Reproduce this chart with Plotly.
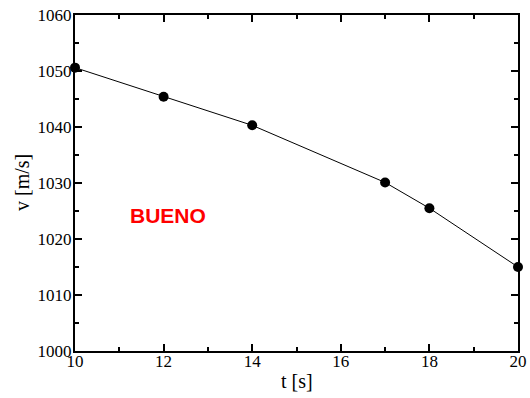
import plotly.graph_objects as go

# datos
t_s = [10, 12, 14, 17, 18, 20]
v_ms = [1050.6, 1045.4, 1040.3, 1030.1, 1025.5, 1015.0]

x_ticks = [10, 12, 14, 16, 18, 20]
y_ticks = [1000, 1010, 1020, 1030, 1040, 1050, 1060]

SERIF = "Liberation Serif"

fig = go.Figure()
fig.add_trace(go.Scatter(
    x=t_s, y=v_ms, mode="lines+markers",
    line=dict(color="black", width=1),
    marker=dict(color="black", size=10),
    cliponaxis=False,
))

fig.add_annotation(
    x=12.1, y=1024.2, text="<b>BUENO</b>", showarrow=False,
    font=dict(family="Liberation Sans", size=21, color="#ff0000"),
)

# titulos de ejes como anotaciones (posicion exacta)
title_font = dict(family=SERIF, size=20, color="black")
fig.add_annotation(x=0.5, y=0, xref="paper", yref="paper", text="t [s]",
                   showarrow=False, yanchor="middle", yshift=-30, font=title_font)
fig.add_annotation(x=0, y=0.5, xref="paper", yref="paper", text="v [m/s]",
                   showarrow=False, textangle=-90, xanchor="center",
                   xshift=-53, font=title_font)

axis_common = dict(
    showgrid=False, zeroline=False, showline=True, linecolor="black",
    linewidth=2, mirror="allticks", ticks="inside", ticklen=7,
    tickwidth=1.5, tickcolor="black", automargin=False,
    ticklabeloverflow="allow",
    tickfont=dict(family=SERIF, size=17, color="black"),
)

fig.update_xaxes(
    range=[10, 20], tickvals=x_ticks, ticklabelstandoff=-6,
    minor=dict(dtick=1, ticks="inside", ticklen=4, tickcolor="black", tickwidth=1.5),
    **axis_common,
)
fig.update_yaxes(
    range=[1000, 1060], tickvals=y_ticks, ticklabelstandoff=-2,
    minor=dict(dtick=5, ticks="inside", ticklen=4, tickcolor="black", tickwidth=1.5),
    **axis_common,
)

fig.update_layout(
    width=530, height=398,
    margin=dict(l=75, r=12, t=15, b=47),
    font=dict(family=SERIF, color="black"),
    plot_bgcolor="white", paper_bgcolor="white",
    showlegend=False,
)

# quitar el margen por defecto del body para que la figura llene la ventana
fig.write_html("out.html", config={"displayModeBar": False},
               post_script="document.body.style.margin='0px';")
